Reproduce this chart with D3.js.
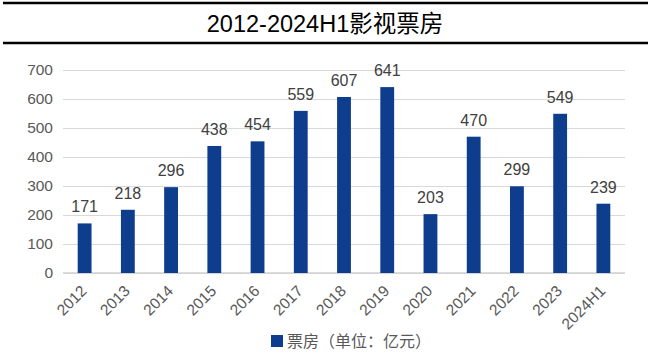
<!DOCTYPE html>
<html>
<head>
<meta charset="utf-8">
<script src="https://cdn.jsdelivr.net/npm/d3@7"></script>
<style>
  body { margin: 0; background: #fff; }
  text { font-family: "Liberation Sans", Arial, "Noto Sans CJK SC", sans-serif; }
</style>
</head>
<body>
<div id="chart"></div>
<script>
const years = ["2012", "2013", "2014", "2015", "2016", "2017", "2018", "2019", "2020", "2021", "2022", "2023", "2024H1"];
const boxOffice = [171, 218, 296, 438, 454, 559, 607, 641, 203, 470, 299, 549, 239];
const yTicks = [0, 100, 200, 300, 400, 500, 600, 700];

let height = 353,
    width = 650,
    margin = ({ top: 70, right: 25, bottom: 80, left: 63 });

const svg = d3.select("#chart")
  .append("svg")
  .attr("width", width)
  .attr("height", height);

// title band with rules above and below
svg.append("line").attr("x1", 3).attr("x2", 648).attr("y1", 3).attr("y2", 3)
  .attr("stroke", "#000").attr("stroke-width", 2.5);
svg.append("line").attr("x1", 3).attr("x2", 648).attr("y1", 43).attr("y2", 43)
  .attr("stroke", "#000").attr("stroke-width", 2.5);
svg.append("text")
  .attr("x", 325).attr("y", 32)
  .attr("text-anchor", "middle")
  .attr("font-size", 23.5)
  .attr("fill", "#000")
  .text("2012-2024H1影视票房");

let x = d3.scaleBand()
  .domain(years)
  .range([margin.left, width - margin.right])
  .paddingInner(0.68)
  .paddingOuter(0.34);

let y = d3.scaleLinear()
  .domain([0, 700])
  .range([273, 70]);

// grid + y labels
svg.append("g")
  .attr("transform", `translate(${margin.left},0)`)
  .call(d3.axisLeft(y).tickValues(yTicks).tickSize(-(width - margin.right - margin.left)).tickPadding(10))
  .call(g => g.select(".domain").remove())
  .call(g => g.selectAll(".tick line").attr("stroke", "#d9d9d9").attr("stroke-width", 1))
  .call(g => g.selectAll(".tick text").attr("fill", "#595959").attr("font-size", 15.5)
    .attr("font-family", "Liberation Sans, Arial, sans-serif"));

// baseline
svg.append("line")
  .attr("x1", margin.left).attr("x2", width - margin.right)
  .attr("y1", y(0)).attr("y2", y(0))
  .attr("stroke", "#d0d0d0").attr("stroke-width", 1.5);

// x labels
svg.append("g")
  .selectAll("text")
  .data(years)
  .join("text")
  .attr("transform", d => `translate(${x(d) + x.bandwidth() / 2 + 3},${292}) rotate(-45)`)
  .attr("text-anchor", "end")
  .attr("fill", "#595959")
  .attr("font-size", 15.5)
  .text(d => d);

// bars
svg.append("g")
  .attr("fill", "#0e3d8e")
  .selectAll("rect")
  .data(boxOffice)
  .join("rect")
  .attr("x", (d, i) => x(years[i]))
  .attr("y", d => y(d))
  .attr("width", x.bandwidth())
  .attr("height", d => y(0) - y(d));

// value labels
svg.append("g")
  .selectAll("text")
  .data(boxOffice)
  .join("text")
  .attr("x", (d, i) => x(years[i]) + x.bandwidth() / 2)
  .attr("y", d => y(d) - 11)
  .attr("text-anchor", "middle")
  .attr("fill", "#404040")
  .attr("font-size", 16)
  .text(d => d);

// legend
svg.append("rect")
  .attr("x", 271).attr("y", 335)
  .attr("width", 12).attr("height", 12)
  .attr("fill", "#0e3d8e");
svg.append("text")
  .attr("x", 287).attr("y", 347)
  .attr("fill", "#595959")
  .attr("font-size", 16)
  .text("票房（单位：亿元）");
</script>
</body>
</html>
